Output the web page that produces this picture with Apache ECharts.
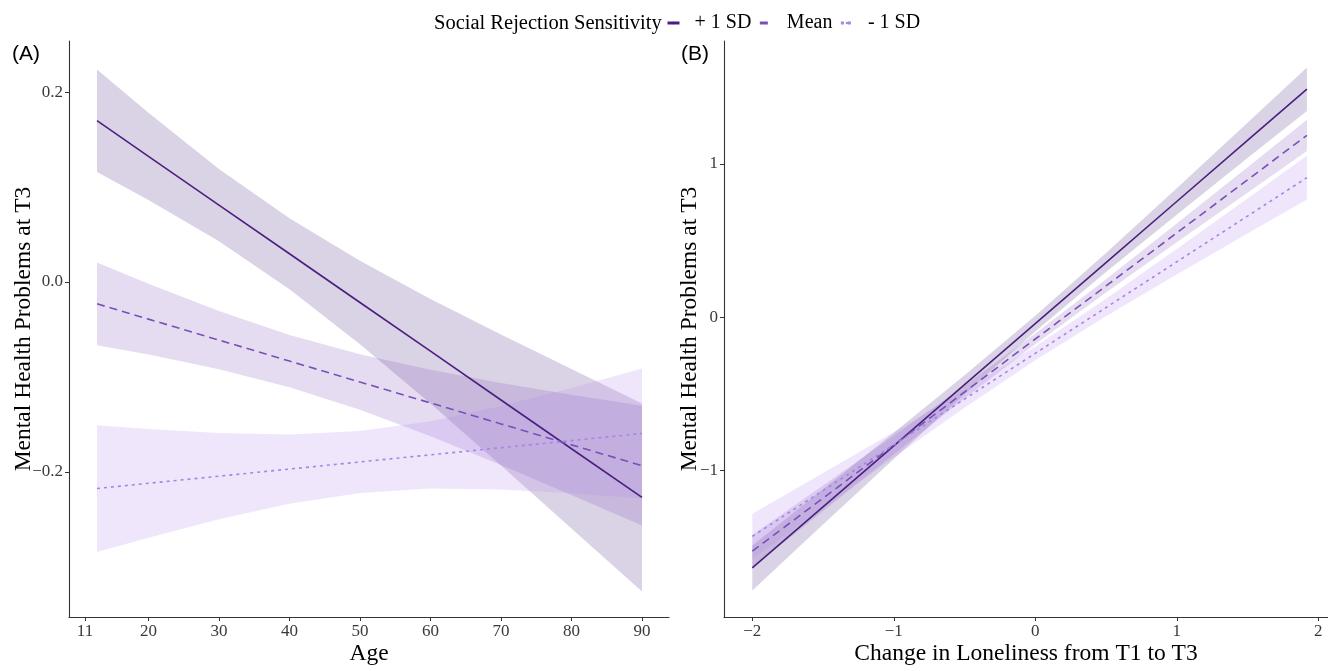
<!DOCTYPE html>
<html>
<head>
<meta charset="utf-8">
<script src="https://cdn.jsdelivr.net/npm/echarts@6/dist/echarts.min.js"></script>
<style>
  html, body { margin: 0; padding: 0; background: #fff; }
  #chart { width: 1328px; height: 671px; }
</style>
</head>
<body>
<div id="chart"></div>
<script>
// ---------- Panel A: Age ----------
const ageX = [12.7, 20, 30, 40, 50, 60, 70, 80, 90];
const ageHighY  = [0.170, 0.1325, 0.0811, 0.0298, -0.0216, -0.0729, -0.1243, -0.1757, -0.227];
const ageHighLo = [0.116, 0.0865, 0.0431, -0.0077, -0.0656, -0.1279, -0.1933, -0.2597, -0.326];
const ageHighUp = [0.224, 0.1785, 0.1191, 0.0673, 0.0224, -0.0179, -0.0553, -0.0917, -0.128];
const ageMeanY  = [-0.023, -0.0391, -0.0612, -0.0833, -0.1054, -0.1274, -0.1495, -0.1716, -0.1935];
const ageMeanLo = [-0.0665, -0.0764, -0.0919, -0.1109, -0.1346, -0.1624, -0.1927, -0.2244, -0.2566];
const ageMeanUp = [0.0205, -0.0018, -0.0305, -0.0557, -0.0762, -0.0924, -0.1063, -0.1188, -0.1304];
const ageLowY   = [-0.2176, -0.2121, -0.2046, -0.1971, -0.1896, -0.1821, -0.1746, -0.1671, -0.1596];
const ageLowLo  = [-0.2844, -0.2694, -0.2501, -0.2336, -0.2222, -0.2176, -0.2186, -0.2226, -0.2281];
const ageLowUp  = [-0.1508, -0.1548, -0.1591, -0.1606, -0.1570, -0.1466, -0.1306, -0.1116, -0.0911];
const ageTicks  = [11, 20, 30, 40, 50, 60, 70, 80, 90];
const ageYTicks = [-0.2, 0, 0.2];

// ---------- Panel B: Change in loneliness ----------
const lonX = [-2, -1.5, -1, -0.5, 0, 0.5, 1, 1.5, 1.92];
const lonHighY  = [-1.635, -1.2368, -0.8386, -0.4404, -0.0421, 0.3561, 0.7543, 1.1525, 1.487];
const lonHighLo = [-1.782, -1.352, -0.925, -0.502, -0.093, 0.294, 0.668, 1.038, 1.345];
const lonHighUp = [-1.488, -1.122, -0.753, -0.378, 0.009, 0.418, 0.840, 1.268, 1.629];
const lonMeanY  = [-1.526, -1.1801, -0.8342, -0.4883, -0.1423, 0.2036, 0.5495, 0.8954, 1.186];
const lonMeanLo = [-1.632, -1.263, -0.895, -0.531, -0.177, 0.161, 0.489, 0.812, 1.084];
const lonMeanUp = [-1.420, -1.097, -0.773, -0.445, -0.107, 0.247, 0.611, 0.978, 1.288];
const lonLowY   = [-1.429, -1.1307, -0.8323, -0.534, -0.2357, 0.0627, 0.361, 0.6593, 0.910];
const lonLowLo  = [-1.576, -1.246, -0.915, -0.591, -0.281, 0.006, 0.278, 0.545, 0.768];
const lonLowUp  = [-1.282, -1.016, -0.749, -0.477, -0.191, 0.120, 0.444, 0.774, 1.052];
const lonTicks  = [-2, -1, 0, 1, 2];
const lonYTicks = [-1, 0, 1];

const seriesNames = ['+ 1 SD', 'Mean', '- 1 SD'];
const lineColors = ['#4B1F80', '#7A50B8', '#A883E4'];
const bandColors = ['rgba(78,48,132,0.21)', 'rgba(123,82,185,0.2)', 'rgba(183,140,240,0.22)'];
const lineTypes = ['solid', [8, 5], [3, 4]];

const SERIF = '"Liberation Serif", "Times New Roman", serif';
const SANS = '"Liberation Sans", Arial, sans-serif';
const minus = v => (v < 0 ? '\u2212' : '') + Math.abs(v);

function zip(xs, ys) { return xs.map((x, i) => [x, ys[i]]); }

function band(xs, lo, up, color, gi) {
  return {
    type: 'custom', xAxisIndex: gi, yAxisIndex: gi, silent: true, z: 1,
    data: [[xs[0], lo[0]]],
    renderItem: function (params, api) {
      const pts = [];
      for (let i = 0; i < xs.length; i++) pts.push(api.coord([xs[i], up[i]]));
      for (let i = xs.length - 1; i >= 0; i--) pts.push(api.coord([xs[i], lo[i]]));
      return { type: 'polygon', shape: { points: pts }, style: { fill: color } };
    }
  };
}
function line(name, xs, ys, k, gi) {
  return {
    name: name, type: 'line', xAxisIndex: gi, yAxisIndex: gi, z: 3,
    data: zip(xs, ys), symbol: 'none', showSymbol: false, silent: true,
    lineStyle: { color: lineColors[k], width: 1.6, type: lineTypes[k] },
    itemStyle: { color: lineColors[k] }
  };
}

const axisCommon = {
  axisLine: { show: true, onZero: false, lineStyle: { color: '#333', width: 1.1 } },
  axisTick: { show: true, length: 4, lineStyle: { color: '#333' } },
  splitLine: { show: false },
  axisLabel: { color: '#3a3a3a', fontFamily: SERIF, fontSize: 17 },
  nameTextStyle: { color: '#000', fontFamily: SERIF, fontSize: 23.5 },
  nameLocation: 'middle',
  nameMoveOverlap: false
};
function xAxis(gi, min, max, ticks, name, fmt) {
  return Object.assign({}, axisCommon, {
    type: 'value', gridIndex: gi, min: min, max: max, name: name, nameGap: 25,
    axisTick: Object.assign({}, axisCommon.axisTick, { customValues: ticks }),
    axisLabel: Object.assign({}, axisCommon.axisLabel, { customValues: ticks, formatter: fmt, margin: 6 })
  });
}
function yAxis(gi, min, max, ticks, name, fmt, gap) {
  return Object.assign({}, axisCommon, {
    type: 'value', gridIndex: gi, min: min, max: max, name: name, nameGap: gap, nameRotate: 90,
    axisTick: Object.assign({}, axisCommon.axisTick, { customValues: ticks }),
    axisLabel: Object.assign({}, axisCommon.axisLabel, { customValues: ticks, formatter: fmt, margin: 6 })
  });
}

const series = [
  band(ageX, ageHighLo, ageHighUp, bandColors[0], 0),
  band(ageX, ageMeanLo, ageMeanUp, bandColors[1], 0),
  band(ageX, ageLowLo, ageLowUp, bandColors[2], 0),
  band(lonX, lonHighLo, lonHighUp, bandColors[0], 1),
  band(lonX, lonMeanLo, lonMeanUp, bandColors[1], 1),
  band(lonX, lonLowLo, lonLowUp, bandColors[2], 1),
  line(seriesNames[0], ageX, ageHighY, 0, 0),
  line(seriesNames[1], ageX, ageMeanY, 1, 0),
  line(seriesNames[2], ageX, ageLowY, 2, 0),
  line(seriesNames[0], lonX, lonHighY, 0, 1),
  line(seriesNames[1], lonX, lonMeanY, 1, 1),
  line(seriesNames[2], lonX, lonLowY, 2, 1)
];

const chart = echarts.init(document.getElementById('chart'), null, { renderer: 'canvas' });
chart.setOption({
  animation: false,
  backgroundColor: '#fff',
  title: [
    { text: 'Social Rejection Sensitivity', left: 434, top: 13, padding: 0,
      textStyle: { fontFamily: SERIF, fontSize: 20.5, fontWeight: 'normal', color: '#000' } },
    { text: '(A)', left: 12, top: 44, padding: 0,
      textStyle: { fontFamily: SANS, fontSize: 21, fontWeight: 'normal', color: '#000' } },
    { text: '(B)', left: 681, top: 44, padding: 0,
      textStyle: { fontFamily: SANS, fontSize: 21, fontWeight: 'normal', color: '#000' } }
  ],
  legend: {
    data: seriesNames, left: 666, top: 13, itemWidth: 12, itemHeight: 3, itemGap: 7,
    selectedMode: false, padding: 0,
    lineStyle: { width: 3 },
    formatter: n => '  ' + n,
    textStyle: { fontFamily: SERIF, fontSize: 20, color: '#000' }
  },
  grid: [
    { left: 69, top: 41, width: 600, height: 586 },
    { left: 724, top: 41, width: 604, height: 586 }
  ],
  xAxis: [
    xAxis(0, 8.73, 93.83, ageTicks, 'Age', v => String(v)),
    xAxis(1, -2.2, 2.069, lonTicks, 'Change in Loneliness from T1 to T3', minus)
  ],
  yAxis: [
    yAxis(0, -0.353, 0.254, ageYTicks, 'Mental Health Problems at T3',
      v => (v < 0 ? '\u2212' : '') + Math.abs(v).toFixed(1), 33),
    yAxis(1, -1.955, 1.801, lonYTicks, 'Mental Health Problems at T3', minus, 22)
  ],
  series: series
});
</script>
</body>
</html>
